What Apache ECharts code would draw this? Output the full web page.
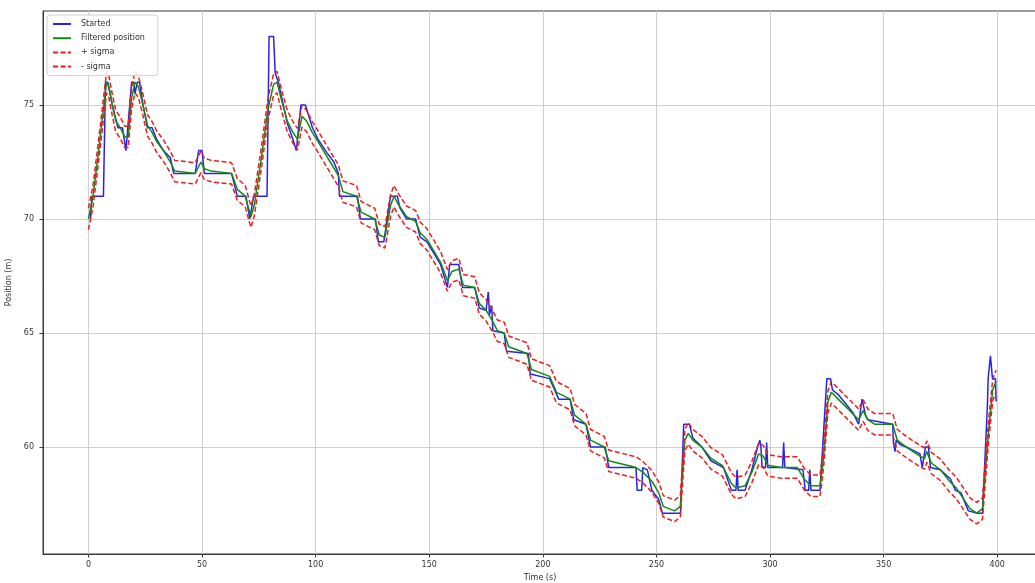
<!DOCTYPE html>
<html>
<head>
<meta charset="utf-8">
<script src="https://cdn.jsdelivr.net/npm/echarts@6/dist/echarts.min.js"></script>
<style>
html,body{margin:0;padding:0;background:#fff;}
#c{width:1035px;height:583px;}
</style>
</head>
<body>
<div id="c"></div>
<script>
// ---- data ----
const xTicks = [0, 50, 100, 150, 200, 250, 300, 350, 400];
const yTicks = [60, 65, 70, 75];

// measured ("Started") position: [time s, position m]
const started = [
 [0.9,70],[1.5,71],[6.6,71],[7.5,76],[8.5,76],[10.5,75],[13,74],[15,74],[16.5,73],[17.3,73],
 [19,76],[20,76],[20.5,75.5],[21.5,76],[22.5,76],[24,75],[26,74],[28,74],[30,73.5],[33,73],
 [36,72.7],[37.5,72],[47,72],[48.5,73],[50,73],[51,72],[63,72],[65.5,71],[69.3,71],[71,70],
 [71.8,70],[72.7,71],[78.6,71],[79.5,78],[81.5,78],[82.2,76.4],[83.6,76],[87.5,74.2],[90,73.5],
 [91.5,73],[92.3,73],[93.5,75],[95.5,75],[98.6,74],[101,73.5],[105,72.9],[108,72.5],[110,72],
 [110.5,71],[118.4,71],[119.7,70],[126.3,70],[127.6,69],[130,69],[133,71],[136,71],[137,70.5],
 [140,70],[144,70],[146,69.2],[149,69],[152,68.5],[155,68],[158,67],[159,68],[163,68],[164.6,67],
 [170,67],[172,66.1],[175,66],[176,66.8],[176.5,65.8],[177.5,66.2],[178,65.1],[183,65],[184,64.2],
 [193.6,64.1],[194.5,63.2],[203,63],[207,62.1],[212,62.1],[213.6,61.2],[219,61],[221,60],
 [227.5,60],[229,59.1],[241,59.1],[241.5,58.1],[243.5,58.1],[244,59.1],[246,59],[248,58.1],
 [251,57.7],[252.6,57.1],[260.6,57.1],[262,61],[264.5,61],[266,60.4],[270,60],[274,59.4],
 [279.5,59.1],[283,58.1],[285,58.1],[285.5,59],[286,58.1],[289,58.1],[292,59],[294.5,60],
 [295.5,60.3],[296,60],[296.5,59.1],[298,59.1],[298.5,60.2],[299,59.1],[305.5,59.1],[306,60.2],
 [306.5,59.1],[314.5,59],[315.5,58.1],[317,58.1],[317.5,59],[318,58.1],[322,58.1],[325,63],
 [326.6,63],[327.5,62.5],[330,62.3],[336.5,61.5],[339,61],[340.5,62.1],[342,61.4],[343,61.2],
 [354,61],[354.3,60.2],[355,59.8],[355.5,60.3],[357.4,60.1],[360,60],[366,59.7],[367,59.1],
 [368.4,60],[369.7,60],[370.6,59.1],[375,59],[379.4,58.6],[381.6,58.1],[384,58],[387.3,57.2],
 [391.3,57.1],[393.5,57.1],[395.7,61.9],[396,63],[397,64],[397.9,63],[399.2,63],[399.5,62]
];

// filtered position: [time s, position m]
const filtered = [
 [0,70],[2,71],[4,72.6],[6,74.3],[8,76],[9,75.8],[10.5,75],[12,74.3],[14,74],[16,73.6],
 [17.5,73.6],[19,75.3],[20.5,76],[22,75.8],[24,75],[26,74.1],[28,73.8],[30,73.4],[33,73],
 [36,72.5],[38,72.1],[47,72],[49.5,72.5],[51,72.2],[54,72.1],[63,72],[65.5,71.3],[69,71],
 [71.5,70.1],[73,70.6],[76,72.6],[79,74.8],[81.5,75.9],[83,76],[85,75.2],[87.5,74.3],[90,73.8],
 [92,73.5],[94,74.5],[96,74.3],[98.5,73.8],[101,73.4],[104,72.9],[107,72.4],[110,71.9],
 [112,71.2],[118,71],[120,70.3],[126,70],[128,69.3],[130.5,69.2],[133,70.6],[134.5,71],
 [136,70.7],[140,70.1],[144,69.9],[146,69.4],[149,69.1],[152,68.6],[155,68.1],[158,67.3],
 [160,67.7],[163,67.8],[165,67.1],[170,67],[172,66.3],[175,66],[178,65.5],[180,65.1],[183,65],
 [185,64.4],[193,64.1],[195,63.4],[203,63.1],[206,62.4],[212,62.1],[214,61.4],[219,61],
 [221,60.3],[227,60],[229,59.4],[241,59.1],[244,58.9],[248,58.5],[251,58],[253,57.4],
 [258,57.2],[260.5,57.4],[262.5,60.3],[264,60.6],[266,60.3],[270,60],[274,59.5],[279,59.2],
 [283,58.4],[285,58.2],[289,58.3],[292,58.9],[295,59.7],[297,59.6],[299,59.2],[305,59.1],
 [312,59.1],[315,58.6],[318,58.3],[322,58.3],[323.5,59.5],[325.5,62],[327,62.4],[330,62.1],
 [335,61.6],[339,61.2],[341,61.6],[343,61.2],[346,61],[354,61],[356,60.3],[360,60],[366,59.6],
 [368,59.5],[369,59.8],[371,59.3],[375,59],[379,58.5],[382,58.2],[388,57.3],[391,57.1],
 [393.5,57.3],[396,60.5],[398,62.5],[399.5,62.9]
];

// half-width of the uncertainty band (m)
const sigma = 0.47;

const plusSigma = filtered.map(p => [p[0], p[1] + sigma]);
const minusSigma = filtered.map(p => [p[0], p[1] - sigma]);

const FONT = 'DejaVu Sans';
const chart = echarts.init(document.getElementById('c'), null, {renderer: 'canvas'});

const lineSeries = (name, data, color, dashed) => ({
  name: name,
  type: 'line',
  data: data,
  symbol: 'none',
  showSymbol: false,
  animation: false,
  silent: true,
  lineStyle: {color: color, width: 1.5, type: dashed ? [5, 2.5] : 'solid'},
  itemStyle: {color: color}
});

chart.setOption({
  animation: false,
  backgroundColor: '#ffffff',
  textStyle: {fontFamily: FONT},
  grid: {
    left: 43, top: 11, right: -2, bottom: 29,
    outerBoundsMode: 'none',
    show: true, borderColor: '#3a3a3a', borderWidth: 1, containLabel: false
  },
  legend: {
    orient: 'vertical',
    left: 47, top: 15,
    padding: [5, 13, 5, 5],
    itemWidth: 18, itemHeight: 10, itemGap: 6.2,
    backgroundColor: 'rgba(255,255,255,0.85)',
    borderColor: '#d0d0d0', borderWidth: 1, borderRadius: 3,
    itemStyle: {opacity: 0},
    textStyle: {fontFamily: FONT, fontSize: 8, color: '#333', padding: [0, 0, 0, 5]},
    data: ['Started', 'Filtered position', '+ sigma', '- sigma']
  },
  xAxis: {
    type: 'value',
    min: -20, max: 417.5,
    name: 'Time (s)',
    nameLocation: 'middle', nameGap: 19,
    nameTextStyle: {fontFamily: FONT, fontSize: 8, color: '#333'},
    axisLine: {show: true, onZero: false, lineStyle: {color: '#3a3a3a', width: 1}},
    axisTick: {show: true, length: 3.5, customValues: xTicks, lineStyle: {color: '#3a3a3a'}},
    axisLabel: {customValues: xTicks, fontFamily: FONT, fontSize: 8, color: '#333', margin: 7},
    splitLine: {show: true, lineStyle: {color: '#cfcfcf', width: 1}}
  },
  yAxis: {
    type: 'value',
    min: 55.31, max: 79.12,
    name: 'Position (m)',
    nameLocation: 'middle', nameGap: 24, nameRotate: 90,
    nameTextStyle: {fontFamily: FONT, fontSize: 8, color: '#333'},
    axisLine: {show: true, onZero: false, lineStyle: {color: '#3a3a3a', width: 1}},
    axisTick: {show: true, length: 3.5, customValues: yTicks, lineStyle: {color: '#3a3a3a'}},
    axisLabel: {customValues: yTicks, fontFamily: FONT, fontSize: 8, color: '#333', margin: 9},
    splitLine: {show: true, lineStyle: {color: '#cfcfcf', width: 1}}
  },
  series: [
    lineSeries('Started', started, '#2424ee', false),
    lineSeries('Filtered position', filtered, '#138a13', false),
    lineSeries('+ sigma', plusSigma, '#ee1c1c', true),
    lineSeries('- sigma', minusSigma, '#ee1c1c', true)
  ]
});
</script>
</body>
</html>
